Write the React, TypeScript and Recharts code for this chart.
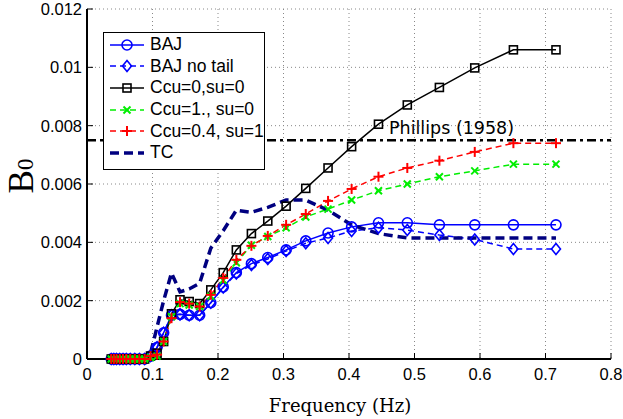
import React from "react"
import { LineChart, Line, XAxis, YAxis, CartesianGrid, Legend, ReferenceLine } from "recharts"

// frequency grid (Hz)
const freq = [
  0.037, 0.041, 0.045, 0.05, 0.055, 0.06, 0.066, 0.073, 0.08, 0.088, 0.097, 0.107, 0.117, 0.129, 0.142,
  0.156, 0.172, 0.189, 0.208, 0.228, 0.251, 0.276, 0.304, 0.334, 0.368, 0.404, 0.445, 0.489, 0.538,
  0.592, 0.651, 0.716,
]

const baj = [
  0, 0, 0, 0, 0, 0, 0, 0, 0, 0, 0.0001, 0.0004, 0.0009, 0.0015, 0.00153, 0.0015, 0.0015, 0.00193, 0.00247,
  0.00296, 0.00327, 0.00348, 0.00374, 0.00405, 0.00432, 0.00453, 0.00467, 0.00467, 0.0046, 0.0046, 0.0046,
  0.0046,
]
const bajNoTail = [
  0, 0, 0, 0, 0, 0, 0, 0, 0, 0, 0.0001, 0.0004, 0.0009, 0.0015, 0.00153, 0.0015, 0.0015, 0.00193, 0.00245,
  0.00293, 0.00322, 0.00343, 0.0037, 0.00397, 0.00415, 0.00439, 0.0045, 0.00442, 0.00425, 0.0041, 0.00377,
  0.00377,
]
const ccu0 = [
  0, 0, 0, 0, 0, 0, 0, 0, 0, 0, 0.0001, 0.0002, 0.0006, 0.00155, 0.00203, 0.00197, 0.0019, 0.00237, 0.00296,
  0.00374, 0.0043, 0.00473, 0.00524, 0.00585, 0.00655, 0.00728, 0.00805, 0.00871, 0.00931, 0.00998, 0.0106,
  0.0106,
]
const ccu1 = [
  0, 0, 0, 0, 0, 0, 0, 0, 0, 0, 0.00005, 0.0001, 0.0006, 0.00145, 0.0019, 0.00185, 0.0018, 0.00215, 0.0027,
  0.0033, 0.0039, 0.0042, 0.0045, 0.00487, 0.00514, 0.00545, 0.00577, 0.006, 0.00625, 0.00645, 0.00668,
  0.00668,
]
const ccu04 = [
  0, 0, 0, 0, 0, 0, 0, 0, 0, 0, 0.0001, 0.00015, 0.0006, 0.0014, 0.00195, 0.0019, 0.0018, 0.0022, 0.00278,
  0.0034, 0.00388, 0.00422, 0.0046, 0.00497, 0.00542, 0.00583, 0.00625, 0.00655, 0.0068, 0.0071, 0.0074,
  0.0074,
]
const tc = [
  0.00005, 0.00005, 0.00005, 0.00005, 0.00005, 0.00005, 0.00005, 0.00005, 0.00005, 0.00005, 0.0002, 0.0011,
  0.002, 0.00295, 0.0023, 0.0024, 0.0026, 0.0038, 0.0044, 0.0051, 0.00503, 0.0052, 0.00545, 0.00545, 0.0051,
  0.0046, 0.0043, 0.00415, 0.00415, 0.00415, 0.00415, 0.00415,
]

const xTicks = [0, 0.1, 0.2, 0.3, 0.4, 0.5, 0.6, 0.7, 0.8]
const yTicks = [0, 0.002, 0.004, 0.006, 0.008, 0.01, 0.012]
const phillips = 0.0075

const data = freq.map((f, i) => ({
  f,
  baj: baj[i],
  bajNoTail: bajNoTail[i],
  ccu0: ccu0[i],
  ccu1: ccu1[i],
  ccu04: ccu04[i],
  tc: tc[i],
}))

type Shape = "circle" | "diamond" | "square" | "x" | "plus" | "none"

const series: { key: string; name: string; color: string; dash?: string; width: number; shape: Shape }[] = [
  { key: "baj", name: "BAJ", color: "#0000ff", width: 1.5, shape: "circle" },
  { key: "bajNoTail", name: "BAJ no tail", color: "#0000ff", dash: "6 4", width: 1.5, shape: "diamond" },
  { key: "ccu0", name: "Ccu=0,su=0", color: "#000000", width: 1.5, shape: "square" },
  { key: "ccu1", name: "Ccu=1., su=0", color: "#00ee00", dash: "6 4", width: 1.5, shape: "x" },
  { key: "ccu04", name: "Ccu=0.4, su=1", color: "#ff0000", dash: "6 4", width: 1.5, shape: "plus" },
  { key: "tc", name: "TC", color: "#000080", dash: "9 5", width: 3.5, shape: "none" },
]

const sans = "'Liberation Sans', Arial, sans-serif"

function Marker({ shape, cx, cy, color }: { shape: Shape; cx: number; cy: number; color: string }) {
  if (cx == null || cy == null) return null
  switch (shape) {
    case "circle":
      return <circle cx={cx} cy={cy} r={5} fill="none" stroke={color} strokeWidth={1.6} />
    case "diamond":
      return (
        <polygon
          points={`${cx},${cy - 5.5} ${cx + 4.5},${cy} ${cx},${cy + 5.5} ${cx - 4.5},${cy}`}
          fill="none"
          stroke={color}
          strokeWidth={1.6}
        />
      )
    case "square":
      return <rect x={cx - 4} y={cy - 4} width={8} height={8} fill="none" stroke={color} strokeWidth={1.6} />
    case "x":
      return (
        <g stroke={color} strokeWidth={2}>
          <line x1={cx - 3.5} y1={cy - 3.5} x2={cx + 3.5} y2={cy + 3.5} />
          <line x1={cx - 3.5} y1={cy + 3.5} x2={cx + 3.5} y2={cy - 3.5} />
        </g>
      )
    case "plus":
      return (
        <g stroke={color} strokeWidth={2}>
          <line x1={cx - 5} y1={cy} x2={cx + 5} y2={cy} />
          <line x1={cx} y1={cy - 5} x2={cx} y2={cy + 5} />
        </g>
      )
    default:
      return null
  }
}

const LegendBox = () => (
  <div
    style={{
      border: "1px solid #000",
      background: "#fff",
      width: 160,
      height: 135,
      paddingTop: 1,
      boxSizing: "content-box",
      fontFamily: sans,
      fontSize: 17.5,
      color: "#000",
      whiteSpace: "nowrap",
    }}
  >
    {series.map((s) => (
      <div key={s.key} style={{ display: "flex", alignItems: "center", height: 21.6 }}>
        <svg width={34} height={14} style={{ marginLeft: 6, marginRight: 6, overflow: "visible" }}>
          <line
            x1={0}
            y1={7}
            x2={34}
            y2={7}
            stroke={s.color}
            strokeWidth={s.width}
            strokeDasharray={s.dash}
          />
          <Marker shape={s.shape} cx={17} cy={7} color={s.color} />
        </svg>
        <span>{s.name}</span>
      </div>
    ))}
  </div>
)

export default function App() {
  const axisLine = { stroke: "#000", strokeWidth: 2 }
  const tickLine = { stroke: "#000", strokeWidth: 1 }
  const tickStyle = { fill: "#000", fontSize: 16.5, fontFamily: sans }
  return (
    <div style={{ position: "absolute", left: 0, top: 0, width: 623, height: 419, background: "#fff" }}>
      <LineChart width={623} height={419} data={data} margin={{ top: 9, right: 12, bottom: 0, left: 27 }}>
        <CartesianGrid
          xAxisId="b"
          yAxisId="l"
          stroke="#888"
          strokeDasharray="1 3"
          horizontalValues={yTicks}
          verticalValues={xTicks}
        />
        <XAxis
          xAxisId="b"
          dataKey="f"
          type="number"
          domain={[0, 0.8]}
          ticks={xTicks}
          tickSize={-6}
          tickMargin={15}
          axisLine={axisLine}
          tickLine={tickLine}
          tick={tickStyle}
          height={60}
          interval={0}
          label={{
            content: ({ viewBox }: any) => (
              <text
                x={viewBox.x + viewBox.width / 2 - 9}
                y={viewBox.y + 53}
                textAnchor="middle"
                fontFamily="'DejaVu Serif', serif"
                fontSize={18}
                fill="#000"
              >
                Frequency (Hz)
              </text>
            ),
          }}
        />
        <XAxis
          xAxisId="t"
          orientation="top"
          dataKey="f"
          type="number"
          domain={[0, 0.8]}
          ticks={xTicks}
          tickSize={-6}
          axisLine={axisLine}
          tickLine={tickLine}
          tickFormatter={() => ""}
          height={0}
          interval={0}
        />
        <YAxis
          yAxisId="l"
          type="number"
          domain={[0, 0.012]}
          ticks={yTicks}
          tickSize={-6}
          tickMargin={11}
          axisLine={axisLine}
          tickLine={tickLine}
          tick={tickStyle}
          width={60}
          interval={0}
          label={{
            content: ({ viewBox }: any) => {
              const x = viewBox.x + 6
              const y = viewBox.y + 167
              return (
                <text
                  x={x}
                  y={y}
                  transform={`rotate(-90 ${x} ${y})`}
                  textAnchor="middle"
                  fontFamily="'Liberation Serif', 'Times New Roman', serif"
                  fontSize={35}
                  fill="#000"
                >
                  B<tspan fontSize={23}>0</tspan>
                </text>
              )
            },
          }}
        />
        <YAxis
          yAxisId="r"
          orientation="right"
          type="number"
          domain={[0, 0.012]}
          ticks={yTicks}
          tickSize={-6}
          axisLine={axisLine}
          tickLine={tickLine}
          tickFormatter={() => ""}
          width={0}
          interval={0}
        />
        <ReferenceLine
          xAxisId="b"
          yAxisId="l"
          y={phillips}
          stroke="#000"
          strokeWidth={2.5}
          strokeDasharray="9 4 3 4"
          label={{
            content: ({ viewBox }: any) => (
              <text
                x={viewBox.x + 302}
                y={viewBox.y - 6}
                fontFamily="'DejaVu Sans', sans-serif"
                fontSize={17.5}
                fill="#000"
              >
                Phillips (1958)
              </text>
            ),
          }}
        />
        {series.map((s) => (
          <Line
            key={s.key}
            xAxisId="b"
            yAxisId="l"
            dataKey={s.key}
            name={s.name}
            type="linear"
            stroke={s.color}
            strokeWidth={s.width}
            strokeDasharray={s.dash}
            isAnimationActive={false}
            dot={
              s.shape === "none"
                ? false
                : (p: any) => <Marker key={`${s.key}-${p.index}`} shape={s.shape} cx={p.cx} cy={p.cy} color={s.color} />
            }
            activeDot={false}
          />
        ))}
        <Legend
          layout="horizontal"
          verticalAlign="middle"
          align="center"
          content={() => <LegendBox />}
          wrapperStyle={{ left: 103, top: 32, width: 162, height: 137 }}
        />
      </LineChart>
    </div>
  )
}
